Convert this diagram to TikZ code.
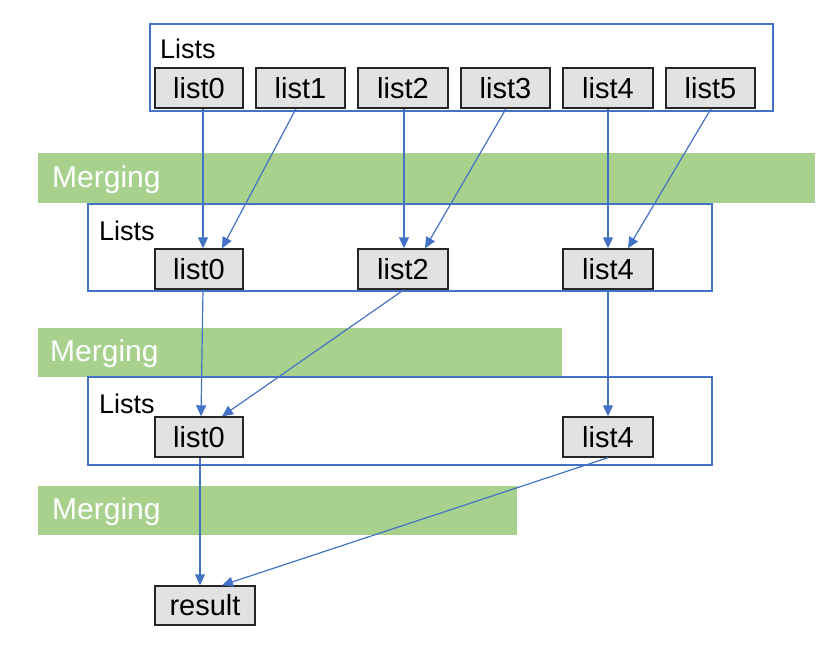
\documentclass[tikz,border=0pt]{standalone}
\usepackage{fontspec}
\setmainfont{Liberation Sans}
\usetikzlibrary{arrows.meta}
\definecolor{bblue}{HTML}{4472C4}
\definecolor{mgreen}{HTML}{A9D18E}
\definecolor{lgray}{HTML}{E2E2E2}
\begin{document}
\begin{tikzpicture}[x=1pt,y=-1pt,
  grp/.style={draw=bblue,line width=1.2pt},
  lbox/.style={draw=black!85,fill=lgray,line width=1.4pt,minimum width=88pt,minimum height=40pt,inner sep=0pt,font=\fontsize{29}{31}\selectfont},
  band/.style={fill=mgreen,draw=none},
  bandtxt/.style={text=white,anchor=west,font=\fontsize{30}{32}\selectfont,inner sep=0pt},
  grptxt/.style={anchor=west,font=\fontsize{27}{29}\selectfont,inner sep=0pt},
  conn/.style={draw=bblue,line width=1.2pt,-{Triangle[length=11pt,width=10pt]}}]
\useasboundingbox (0,0) rectangle (840,658);
% group boxes
\draw[grp] (150,24) rectangle (773,111);
\node[grptxt] (l1) at (160,49) {Lists};
\fill[band] (38,153) rectangle (815,203);
\node[bandtxt] (m1) at (52,180) {Merging};
\draw[grp] (88,204) rectangle (712,291);
\node[grptxt] (l2) at (99,231) {Lists};
\fill[band] (38,328) rectangle (562,377);
\node[bandtxt] (m2) at (50,354) {Merging};
\draw[grp] (88,377) rectangle (712,465);
\node[grptxt] (l3) at (99,404) {Lists};
\fill[band] (38,486) rectangle (517,535);
\node[bandtxt] (m3) at (52,512) {Merging};
% row 1
\node[lbox] (a0) at (199,88) {list0};
\node[lbox,minimum width=89pt] (a1) at (300.5,88) {list1};
\node[lbox,minimum width=90pt] (a2) at (403,88) {list2};
\node[lbox,minimum width=89pt] (a3) at (505.5,88) {list3};
\node[lbox,minimum width=90pt] (a4) at (608,88) {list4};
\node[lbox,minimum width=89pt] (a5) at (710.5,88) {list5};
% row 2
\node[lbox] (b0) at (199,269) {list0};
\node[lbox,minimum width=90pt] (b2) at (403,269) {list2};
\node[lbox,minimum width=90pt] (b4) at (608,269) {list4};
% row 3
\node[lbox] (c0) at (199,437) {list0};
\node[lbox,minimum width=90pt] (c4) at (608,437) {list4};
% result
\node[lbox,minimum width=100pt,minimum height=39pt] (r) at (205,605.5) {result};
% connectors
\draw[conn] (a0.south-|203,0) -- (b0.north-|203,0);
\draw[conn] (a1.south-|296,0) -- (b0.north-|222,0);
\draw[conn] (a2.south-|404,0) -- (b2.north-|404,0);
\draw[conn] (a3.south-|506,0) -- (b2.north-|425,0);
\draw[conn] (a4.south-|608,0) -- (b4.north-|608,0);
\draw[conn] (a5.south-|711,0) -- (b4.north-|628,0);
\draw[conn] (b0.south-|203,0) -- (c0.north-|201,0);
\draw[conn] (b2.south-|404,0) -- (c0.north-|222,0);
\draw[conn] (b4.south-|608,0) -- (c4.north-|608,0);
\draw[conn] (c0.south-|200,0) -- (r.north-|200,0);
\draw[conn] (c4.south-|608,0) -- (r.north-|222,0);
\end{tikzpicture}
\end{document}
